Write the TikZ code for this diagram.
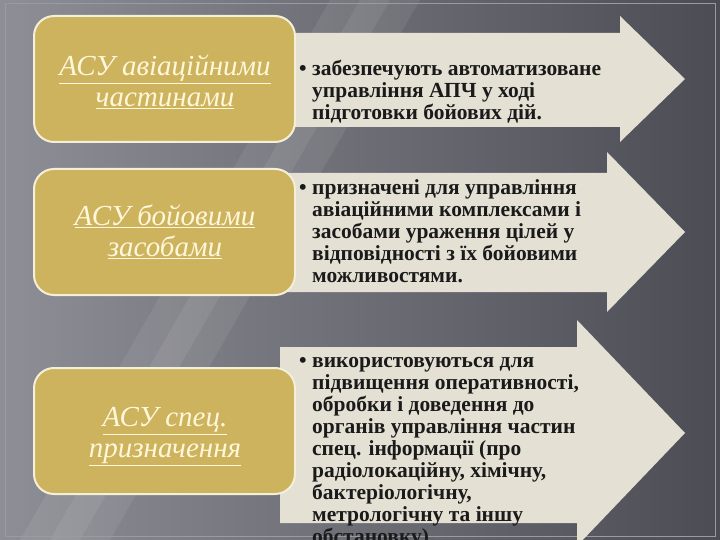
\documentclass[tikz,border=0pt]{standalone}
\usepackage{fontspec}
\setmainfont{Liberation Serif}
\definecolor{bgL}{HTML}{8E8E96}
\definecolor{bgR}{HTML}{4C4C54}
\definecolor{framecol}{HTML}{9A9AA2}
\definecolor{gold}{HTML}{CDB35E}
\definecolor{boxedge}{HTML}{F4EFD9}
\definecolor{goldtxt}{HTML}{FFF7DA}
\definecolor{cream}{HTML}{E4E0D3}
\definecolor{ink}{HTML}{1A1A1A}
\newcommand{\bul}[1]{\begin{tabular}[t]{@{}p{13pt}@{}l@{}}\textbullet & #1\end{tabular}}
\begin{document}
\begin{tikzpicture}[x=1pt,y=-1pt,
  goldbox/.style={draw=boxedge, line width=2pt, fill=gold, rounded corners=20pt,
    minimum width=261pt, minimum height=126pt, inner sep=0pt},
  goldtext/.style={anchor=north, text=goldtxt, font=\fontsize{29}{31}\selectfont\itshape, align=center, inner sep=0pt},
  arrowshape/.style={fill=cream},
  bullettext/.style={anchor=north west, inner sep=0pt, text=ink,
    font=\fontsize{21.5}{22}\selectfont\bfseries},
  streak/.style={fill=white, opacity=0.07}
]
\useasboundingbox (0,0) rectangle (720,540);
\clip (0,0) rectangle (720,540);
% background
\shade[left color=bgL, right color=bgR] (0,0) rectangle (720,540);
\fill[streak] (330,0) -- (420,0) -- (110,540) -- (20,540) -- cycle;
\fill[streak] (360,0) -- (390,0) -- (80,540) -- (50,540) -- cycle;
\draw[framecol, line width=1pt] (5,4) rectangle (715,536);
% arrows
\fill[arrowshape] (280,33) -- (620,33) -- (620,16) -- (685,79) -- (620,142) -- (620,127) -- (280,127) -- cycle;
\fill[arrowshape] (280,173) -- (607,173) -- (607,152) -- (685,232) -- (607,312) -- (607,292) -- (280,292) -- cycle;
\fill[arrowshape] (280,347) -- (577,347) -- (577,320) -- (685,433) -- (577,546) -- (577,523) -- (280,523) -- cycle;
% gold boxes
\node[goldbox] (b1) at (164.5,79) {};
\node[goldbox] (b2) at (164.5,232) {};
\node[goldbox] (b3) at (164.5,431) {};
\node[goldtext] (g1) at (165,53.7) {\strut\underline{АСУ авіаційними}\\\underline{частинами}};
\node[goldtext] (g2) at (165,203.7) {\strut\underline{АСУ бойовими}\\\underline{засобами}};
\node[goldtext] (g3) at (165,404.7) {\strut\underline{АСУ спец.}\\\underline{призначення}};
% arrow texts
\node[bullettext] (t1) at (299,60.1) {\bul{забезпечують автоматизоване\\&управління АПЧ у ході\\&підготовки бойових дій.}};
\node[bullettext] (t2) at (299,179.1) {\bul{призначені для управління\\&авіаційними комплексами  і\\&засобами ураження цілей у\\&відповідності з їх бойовими\\&можливостями.}};
\node[bullettext] (t3) at (299,352.1) {\bul{використовуються для\\&підвищення оперативності,\\&обробки і доведення до\\&органів управління частин\\&спец. інформації (про\\&радіолокаційну, хімічну,\\&бактеріологічну,\\&метрологічну та іншу\\&обстановку).}};
\end{tikzpicture}
\end{document}
